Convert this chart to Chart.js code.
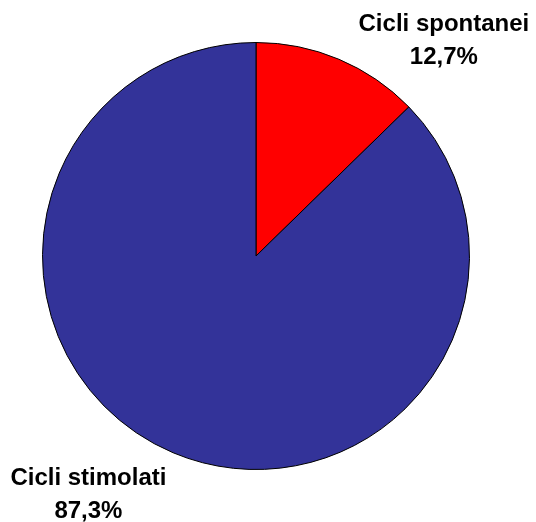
<!DOCTYPE html>
<html><head><meta charset="utf-8">
<script src="https://cdn.jsdelivr.net/npm/chart.js@4"></script>
<style>html,body{margin:0;padding:0;background:#fff}#w{width:536px;height:522px}</style>
</head><body><div id="w"><canvas id="c" width="536" height="522"></canvas></div>
<script>
const categories = ['Cicli spontanei', 'Cicli stimolati'];
const values = [12.7, 87.3];
const valueLabels = ['12,7%', '87,3%'];
const colors = ['#FF0000', '#333399'];

const labelPlugin = {
  id: 'outLabels',
  afterDraw(chart) {
    const ctx = chart.ctx;
    const arcs = chart.getDatasetMeta(0).data;
    // label block centre offsets from pie centre, in units of radius
    const offs = [[0.88, -1.008], [-0.785, 1.117]];
    ctx.save();
    ctx.fillStyle = '#000';
    ctx.font = 'bold 24px "Liberation Sans", Arial, sans-serif';
    ctx.textAlign = 'center';
    ctx.textBaseline = 'middle';
    arcs.forEach((a, i) => {
      const x = a.x + offs[i][0] * a.outerRadius;
      const y = a.y + offs[i][1] * a.outerRadius;
      ctx.fillText(categories[i], x, y - 16.5);
      ctx.fillText(valueLabels[i], x, y + 16.5);
    });
    ctx.restore();
  }
};

new Chart(document.getElementById('c'), {
  type: 'pie',
  data: { labels: categories, datasets: [{ data: values, backgroundColor: colors, borderColor: '#000', borderWidth: 1 }] },
  options: {
    responsive: false, animation: false,
    layout: { padding: { left: 42, right: 66, top: 42, bottom: 52 } },
    plugins: { legend: { display: false }, tooltip: { enabled: false } }
  },
  plugins: [labelPlugin]
});
</script></body></html>
